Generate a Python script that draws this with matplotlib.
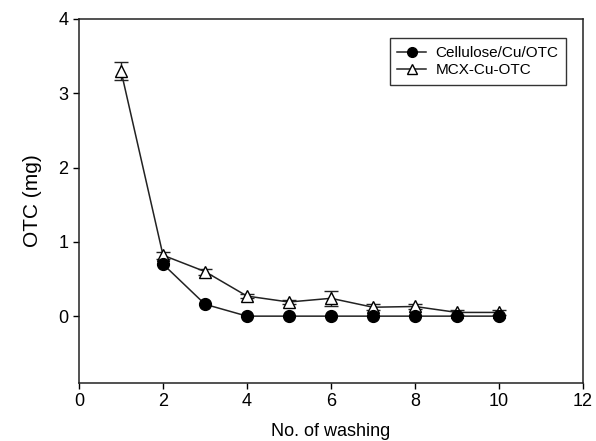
import matplotlib
matplotlib.use("Agg")
from matplotlib import pyplot as plt
from matplotlib.lines import Line2D

plt.rcParams['font.family'] = ['Liberation Sans', 'DejaVu Sans']

# washing cycles and OTC released (mg)
washes = [1, 2, 3, 4, 5, 6, 7, 8, 9, 10]
cellulose_otc = [None, 0.70, 0.16, 0.0, 0.0, 0.0, 0.0, 0.0, 0.0, 0.0]
mcx_otc = [3.30, 0.82, 0.60, 0.27, 0.19, 0.24, 0.12, 0.13, 0.05, 0.05]
mcx_err = [0.12, 0.05, 0.04, 0.03, 0.03, 0.10, 0.04, 0.04, 0.03, 0.03]

x_ticks = [0, 2, 4, 6, 8, 10, 12]
y_ticks = [0, 1, 2, 3, 4]

fig = plt.figure(figsize=(5.96, 4.41), dpi=100)
ax = fig.add_axes([0.1326, 0.1315, 0.8454, 0.8255])

cx = [w for w, v in zip(washes, cellulose_otc) if v is not None]
cy = [v for v in cellulose_otc if v is not None]

ax.errorbar(washes, mcx_otc, yerr=mcx_err, color='#222222', lw=1.1,
            marker='^', ms=9, mfc='white', mec='black', mew=1.0,
            capsize=5, elinewidth=1.0, capthick=1.0, zorder=2)
ax.plot(cx, cy, color='#222222', lw=1.1, marker='o', ms=8.5,
        mfc='black', mec='black', zorder=3)

ax.set_xlim(0, 12)
ax.set_ylim(-0.9, 4)
ax.set_xticks(x_ticks)
ax.set_yticks(y_ticks)
ax.tick_params(direction='out', length=4, width=1, labelsize=13, colors='black')
for s in ax.spines.values():
    s.set_linewidth(1.1)
    s.set_color('#222222')

ax.set_xlabel('No. of washing', fontsize=13, labelpad=9)
ax.set_ylabel('OTC (mg)', fontsize=15, labelpad=12)

# legend with plain line+marker handles
h_cell = Line2D([], [], color='#222222', lw=1.1, marker='o', ms=7,
                mfc='black', mec='black')
h_mcx = Line2D([], [], color='#222222', lw=1.1, marker='^', ms=7.5,
               mfc='white', mec='black')
leg = ax.legend([h_cell, h_mcx], ['Cellulose/Cu/OTC', 'MCX-Cu-OTC'],
                loc='upper right', bbox_to_anchor=(0.982, 0.968),
                fontsize=11, frameon=True, fancybox=False, edgecolor='black',
                handlelength=1.9, handletextpad=0.6, borderpad=0.5,
                labelspacing=0.2)
leg.get_frame().set_linewidth(1.0)

fig.savefig('out.png', dpi=100)
